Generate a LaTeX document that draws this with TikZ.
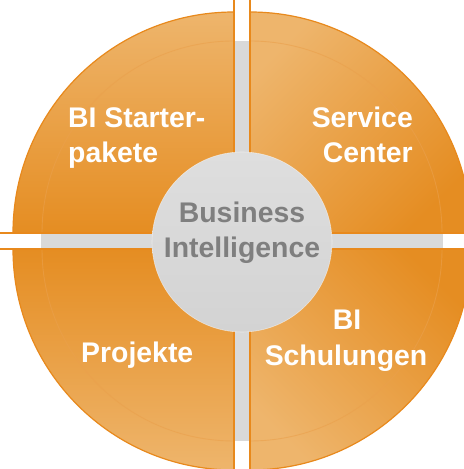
\documentclass[tikz,border=0pt]{standalone}
\usepackage{fontspec}
\setmainfont{Liberation Sans}
\definecolor{olight}{HTML}{EEB56C}
\definecolor{odark}{HTML}{E58D22}
\definecolor{oline}{HTML}{E8891C}
\definecolor{ringc}{HTML}{EAA04C}
\definecolor{crossgray}{HTML}{D9D9D9}
\definecolor{ctop}{HTML}{DEDEDE}
\definecolor{cbot}{HTML}{D3D3D3}
\definecolor{txtgray}{HTML}{7F7F7F}
\begin{document}
\begin{tikzpicture}[x=1bp,y=1bp,
  quad/.style={draw=oline, line width=1.2bp},
  ringline/.style={draw=ringc, line width=0.9bp, opacity=0.6},
  gapline/.style={draw=oline, line width=1.2bp},
  lbl/.style={font=\fontsize{28.5}{35}\selectfont\bfseries, text=white, inner sep=0pt},
  centerlbl/.style={lbl, text=txtgray}]
\useasboundingbox (0,0) rectangle (464,469);
\fill[white] (0,0) rectangle (464,469);
\clip (0,0) rectangle (464,469);
% quadrants
\shade[quad, top color=olight, bottom color=odark]
  (234,236) -- (13,236) arc[start angle=180, end angle=90, radius=221] -- cycle;
\shade[quad, top color=olight, bottom color=odark, shading angle=45]
  (250,236) -- (250,457) arc[start angle=90, end angle=0, radius=221] -- cycle;
\shade[quad, top color=odark, bottom color=olight]
  (234,220) -- (13,220) arc[start angle=180, end angle=270, radius=221] -- cycle;
\shade[quad, top color=odark, bottom color=olight, shading angle=-45]
  (250,220) -- (250,-1) arc[start angle=270, end angle=360, radius=221] -- cycle;
% inner rings
\draw[ringline] (42,236) arc[start angle=180, end angle=90, radius=192];
\draw[ringline] (250,428) arc[start angle=90, end angle=0, radius=192];
\draw[ringline] (42,220) arc[start angle=180, end angle=270, radius=192];
\draw[ringline] (250,28) arc[start angle=270, end angle=360, radius=192];
% gray cross
\fill[crossgray] (234,28) rectangle (250,428);
\fill[crossgray] (41,220) rectangle (443,236);
% gap lines
\draw[gapline] (234,0) -- (234,469);
\draw[gapline] (250,0) -- (250,469);
\draw[gapline] (0,236) -- (464,236);
\draw[gapline] (0,220) -- (464,220);
% centre circle
\shade[top color=ctop, bottom color=cbot, draw=white, draw opacity=0.5, line width=0.6bp] (242,227) circle[radius=90];
% labels
\node[lbl, anchor=base west] (s1) at (68,341) {BI Starter-};
\node[lbl, anchor=base west] (s2) at (68,306) {pakete};
\node[lbl, anchor=base east] (c1) at (413,341) {Service};
\node[lbl, anchor=base east] (c2) at (413,306) {Center};
\node[centerlbl, anchor=base] (b1) at (242,246) {Business};
\node[centerlbl, anchor=base] (b2) at (242,211) {Intelligence};
\node[lbl, anchor=base west] (p1) at (81,106) {Projekte};
\node[lbl, anchor=base] (t1) at (347,139) {BI};
\node[lbl, anchor=base] (t2) at (346,103) {Schulungen};
\end{tikzpicture}
\end{document}
